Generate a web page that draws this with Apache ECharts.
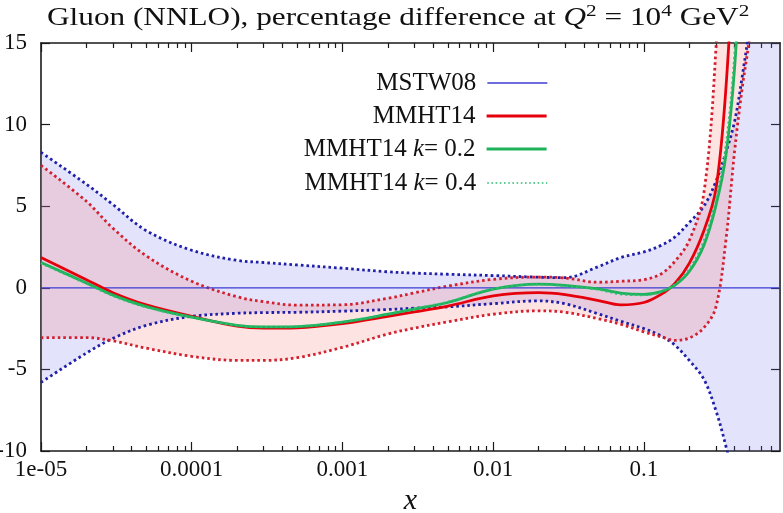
<!DOCTYPE html>
<html><head><meta charset="utf-8">
<script src="https://cdn.jsdelivr.net/npm/echarts@6/dist/echarts.min.js"></script>
<style>html,body{margin:0;padding:0;background:#fff}#c{width:783px;height:513px}</style>
</head><body><div id="c"></div>
<script>
// ---- data ----
const xs      = [1e-5, 2e-5, 3e-5, 5e-5, 1e-4, 2e-4, 3e-4, 5e-4, 1e-3, 2e-3, 3e-3, 5e-3, 1e-2, 2e-2, 3e-2, 5e-2, 0.07, 0.1, 0.13, 0.16, 0.2, 0.25, 0.3, 0.35, 0.4, 0.45, 0.5, 0.6, 0.7, 0.8];
const mstwCen = [0, 0, 0, 0, 0, 0, 0, 0, 0, 0, 0, 0, 0, 0, 0, 0, 0, 0, 0, 0, 0, 0, 0, 0, 0, 0, 0, 0, 0, 0];
const mstwUp  = [8.3, 6.35, 5.1, 3.5, 2.3, 1.68, 1.55, 1.4, 1.2, 0.98, 0.9, 0.83, 0.75, 0.65, 0.62, 1.3, 1.85, 2.2, 2.6, 3.1, 4.0, 5.0, 6.5, 8.3, 10.2, 13.0, 16.0, 24, 30, 40];
const mstwLow = [-5.8, -4.0, -3.1, -2.3, -1.75, -1.56, -1.52, -1.5, -1.43, -1.33, -1.25, -1.17, -0.97, -0.8, -0.98, -1.6, -2.05, -2.5, -2.95, -3.5, -4.45, -5.6, -7.5, -9.7, -12, -14.5, -17, -22, -28, -35];
const mmhtCen = [1.86, 0.5, -0.3, -1.05, -1.75, -2.35, -2.47, -2.45, -2.2, -1.75, -1.48, -1.12, -0.5, -0.3, -0.42, -0.78, -1.05, -0.9, -0.4, 0.25, 1.5, 3.5, 6.0, 12.2, 22, 35, 50, 70, 90, 110];
const mmhtUp  = [7.5, 5.3, 3.65, 1.95, 0.4, -0.55, -0.85, -1.06, -1.04, -0.64, -0.31, 0.1, 0.52, 0.66, 0.6, 0.34, 0.4, 0.5, 0.85, 1.6, 2.9, 5.8, 14.5, 28, 45, 60, 75, 100, 120, 140];
const mmhtLow = [-3.06, -3.05, -3.25, -3.7, -4.2, -4.45, -4.45, -4.28, -3.65, -2.83, -2.47, -2.08, -1.62, -1.41, -1.5, -1.9, -2.23, -2.7, -3.0, -3.22, -3.08, -2.45, -1.2, 2.9, 8.4, 12.3, 15.2, 22, 30, 40];
const k02     = [1.55, 0.3, -0.45, -1.15, -1.8, -2.3, -2.4, -2.38, -2.1, -1.62, -1.3, -0.9, -0.08, 0.23, 0.15, -0.07, -0.32, -0.4, -0.23, 0.15, 1.0, 2.6, 5.0, 8.1, 13.5, 22, 32, 50, 70, 90];
const k04     = [1.5, 0.25, -0.5, -1.2, -1.82, -2.3, -2.4, -2.36, -2.08, -1.6, -1.27, -0.86, -0.06, 0.2, 0.1, -0.12, -0.4, -0.45, -0.25, 0.2, 1.15, 2.9, 5.4, 8.8, 14.5, 23, 33, 50, 70, 90];

const seriesNames = ['MSTW08', 'MMHT14', 'MMHT14 k= 0.2', 'MMHT14 k= 0.4'];
const xMajorTicks = [1e-5, 1e-4, 1e-3, 1e-2, 0.1];
const xTickLabels = ['1e-05', '0.0001', '0.001', '0.01', '0.1'];
const titleText = 'Gluon (NNLO), percentage difference at {i|Q}{s|2} = 10{s|4} GeV{s|2}';

// ---- helpers ----
const xMinorTicks = [];
xMajorTicks.forEach(d => { for (let m = 2; m <= 9; m++) { const v = +(d * m).toPrecision(6); if (v < 0.8) xMinorTicks.push(v); } });
const pairs = ys => xs.map((x, i) => [x, ys[i]]);
// band series keep the value first so that the stack is applied to the y value
const yFirst = ys => xs.map((x, i) => [ys[i], x]);
const yFirstDiff = (up, low) => xs.map((x, i) => [+(up[i] - low[i]).toFixed(4), x]);

const FONT = 'Liberation Serif';
const AX = '#1a1a1a';
const TXT = '#111';
const BLUE_DOT = '#1f1fa8', BLUE_LINE = '#3c3cd2';
const RED = '#e5000c', RED_DOT = '#d3202e';
const GREEN = '#1eb35a', GREEN_DOT = '#2ebb72';
const SM = 0.35;

function dotted(name, ys, color, width) {
  return { name, type: 'line', data: pairs(ys), smooth: SM, symbol: 'none', silent: true, z: 4,
    itemStyle: { color }, lineStyle: { color, width, type: [2.6, 3.0], cap: 'butt' } };
}
function bandBase(stack, low) {
  return { name: stack + '_base', type: 'line', stack, stackStrategy: 'all', encode: { x: 1, y: 0 },
    data: yFirst(low), smooth: SM, symbol: 'none', silent: true, z: 1, lineStyle: { width: 0, opacity: 0 } };
}
function bandFill(stack, up, low, color) {
  return { name: stack + '_fill', type: 'line', stack, stackStrategy: 'all', encode: { x: 1, y: 0 },
    data: yFirstDiff(up, low), smooth: SM, symbol: 'none', silent: true, z: 1,
    lineStyle: { width: 0, opacity: 0 }, areaStyle: { color, opacity: 1 } };
}

const xBase = { type: 'log', logBase: 10, min: 1e-5, max: 0.8, gridIndex: 0, splitLine: { show: false }, minorTick: { show: false } };
function xAx(pos, major) {
  const a = Object.assign({}, xBase, {
    position: pos,
    axisLine: { show: major, onZero: false, lineStyle: { color: AX, width: 1.6 } },
    axisTick: { show: true, inside: true, length: major ? 9 : 5, customValues: major ? xMajorTicks : xMinorTicks, lineStyle: { color: AX, width: 1.2 } },
    axisLabel: { show: false }
  });
  if (major && pos === 'bottom') {
    a.axisLabel = { show: true, customValues: xMajorTicks, fontFamily: FONT, fontSize: 23, color: TXT, margin: 7,
      formatter: v => { const i = xMajorTicks.findIndex(t => Math.abs(Math.log10(t) - Math.log10(v)) < 1e-6); return i >= 0 ? xTickLabels[i] : ''; } };
    a.name = 'x'; a.nameLocation = 'middle'; a.nameGap = 31;
    a.nameTextStyle = { fontFamily: FONT, fontStyle: 'italic', fontSize: 30, color: TXT };
  }
  return a;
}
function yAx(pos) {
  return { type: 'value', min: -10, max: 15, interval: 5, position: pos, gridIndex: 0,
    axisLine: { show: true, onZero: false, lineStyle: { color: AX, width: 1.6 } },
    axisTick: { show: true, inside: true, length: 9, lineStyle: { color: AX, width: 1.2 } },
    axisLabel: { show: pos === 'left', fontFamily: FONT, fontSize: 23, color: TXT, margin: 14 },
    splitLine: { show: false } };
}

const legendRows = [69, 102, 135, 169];
const legendLines = [
  { color: BLUE_LINE, width: 1.3, type: 'solid' },
  { color: RED, width: 2.8, type: 'solid' },
  { color: GREEN, width: 2.8, type: 'solid' },
  { color: GREEN_DOT, width: 1.6, type: [1.6, 2.6] }
];
const legendRich = { i: { fontFamily: FONT, fontStyle: 'italic', fontSize: 25, color: TXT, lineHeight: 28 } };
const legends = seriesNames.map((n, k) => ({
  data: [n], orient: 'horizontal', align: 'right', right: 235, top: legendRows[k], padding: 0,
  itemWidth: 60, itemHeight: 14, selectedMode: false,
  textStyle: { fontFamily: FONT, fontSize: 25, color: TXT, lineHeight: 28, padding: [0, 6, 0, 0], rich: legendRich },
  formatter: name => name.replace(' k=', ' {i|k}='),
  itemStyle: { opacity: 0 },
  lineStyle: legendLines[k]
}));

const option = {
  animation: false,
  backgroundColor: '#fff',
  graphic: [{
    type: 'text', x: 47, y: 3, scaleX: 1.25, scaleY: 1, originX: 0, originY: 0, silent: true, z: 10,
    style: {
      text: titleText, fontFamily: FONT, fontSize: 25, fill: TXT, lineHeight: 30, verticalAlign: 'top', align: 'left',
      rich: {
        i: { fontFamily: FONT, fontStyle: 'italic', fontSize: 25, fill: TXT, lineHeight: 30 },
        s: { fontFamily: FONT, fontSize: 17, fill: TXT, lineHeight: 17, verticalAlign: 'top' }
      }
    }
  }],
  legend: legends,
  grid: { left: 41, right: 3, top: 43, bottom: 62, containLabel: false, outerBoundsMode: 'none' },
  xAxis: [xAx('bottom', true), xAx('bottom', false), xAx('top', true), xAx('top', false)],
  yAxis: [yAx('left'), yAx('right')],
  series: [
    bandBase('mstw', mstwLow),
    bandFill('mstw', mstwUp, mstwLow, 'rgba(105,105,238,0.19)'),
    bandBase('mmht', mmhtLow),
    bandFill('mmht', mmhtUp, mmhtLow, 'rgba(250,115,115,0.2)'),
    dotted('mstwUp', mstwUp, BLUE_DOT, 2.8),
    dotted('mstwLow', mstwLow, BLUE_DOT, 2.8),
    dotted('mmhtUp', mmhtUp, RED_DOT, 2.8),
    dotted('mmhtLow', mmhtLow, RED_DOT, 2.8),
    { name: seriesNames[0], type: 'line', data: pairs(mstwCen), symbol: 'none', silent: true, z: 5,
      itemStyle: { color: BLUE_LINE }, lineStyle: { color: BLUE_LINE, width: 1.3 } },
    { name: seriesNames[1], type: 'line', data: pairs(mmhtCen), smooth: SM, symbol: 'none', silent: true, z: 6,
      itemStyle: { color: RED }, lineStyle: { color: RED, width: 2.8 } },
    { name: seriesNames[2], type: 'line', data: pairs(k02), smooth: SM, symbol: 'none', silent: true, z: 6,
      itemStyle: { color: GREEN }, lineStyle: { color: GREEN, width: 2.8 } },
    { name: seriesNames[3], type: 'line', data: pairs(k04), smooth: SM, symbol: 'none', silent: true, z: 6,
      itemStyle: { color: GREEN_DOT }, lineStyle: { color: GREEN_DOT, width: 2.0, type: [2, 3], cap: 'butt' } }
  ]
};
const chart = echarts.init(document.getElementById('c'), null, { renderer: 'canvas' });
chart.setOption(option);
</script></body></html>
